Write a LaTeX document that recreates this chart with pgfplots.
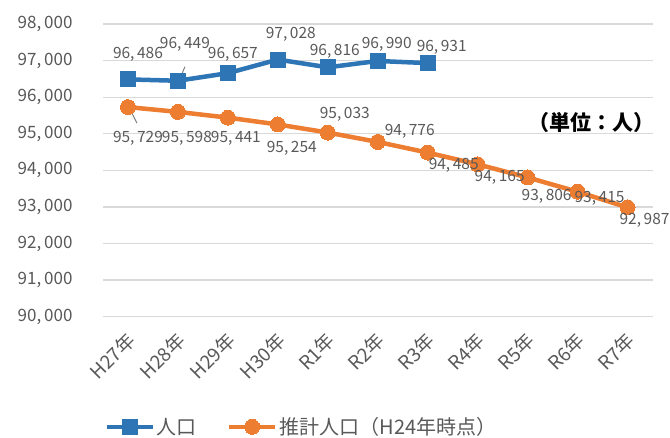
\documentclass[border=0pt]{standalone}
\usepackage{pgfplots}
\pgfplotsset{compat=1.18}
\usepackage{pgfplotstable}
\usepackage{fontspec}
\setmainfont{Noto Sans CJK JP}
\definecolor{cblue}{HTML}{2E75B6}
\definecolor{corange}{HTML}{ED7D31}
\definecolor{ctext}{HTML}{595959}
\definecolor{cgrid}{HTML}{D9D9D9}
\pgfplotstableread{
x y dx dy
0 96486 10 25
1 96449 7 36
2 96657 5 19
3 97028 13 25
4 96816 7 16
5 96990 9 17
6 96931 14 16
}\jinko
\pgfplotstableread{
x y dx dy
0 95729 10 -31
1 95598 9 -26
2 95441 8 -21
3 95254 14 -24
4 95033 17 18
5 94776 32 11
6 94485 26 -13
7 94165 22 -13
8 93806 19 -19
9 93415 22 -7
10 92987 17 -13
}\suikei
\pgfplotsset{/pgf/number format/.cd, assume math mode=true, 1000 sep={,\,}}
\pgfplotsset{frame/.style={
  at={(103pt,120.3pt)}, anchor=south west,
  scale only axis, width=549.5pt, height=292.7pt,
  xmin=-0.5, xmax=10.5, ymin=90000, ymax=98000, clip=false}}
\begin{document}
\begin{tikzpicture}
\useasboundingbox (0pt,0pt) rectangle (670pt,437pt);
\begin{axis}[
  frame,
  ytick={90000,91000,...,98000},
  xtick={0,...,10},
  xticklabels={H27年,H28年,H29年,H30年,R1年,R2年,R3年,R4年,R5年,R6年,R7年},
  axis line style={draw=none},
  major tick length=0pt,
  ymajorgrids, grid style={cgrid, line width=1.3pt},
  tick label style={color=ctext, font=\fontsize{17}{17}\selectfont},
  yticklabel style={anchor=east, xshift=-27pt},
  xticklabel style={font=\fontsize{19}{19}\selectfont, xshift=6pt, yshift=-18pt, rotate=45, anchor=east},
  scaled y ticks=false,
  legend columns=2,
  legend style={draw=none, fill=none, at={(0.361,-0.376)}, anchor=center,
    font=\fontsize{20}{20}\selectfont, text=ctext,
    /tikz/every even column/.append style={column sep=28pt}},
  legend image code/.code={\draw[#1, mark repeat=2, mark phase=2] plot coordinates {(0pt,0pt)(23pt,0pt)(46pt,0pt)};},
]
\addplot[color=cblue, line width=4.5pt, mark=square*, mark size=7.5pt, mark options={line width=0pt, fill=cblue}] table[x=x,y=y] {\jinko};
\addlegendentry{人口}
\addplot[color=corange, line width=4.5pt, mark=*, mark size=7.5pt, mark options={line width=0pt, fill=corange}] table[x=x,y=y] {\suikei};
\addlegendentry{推計人口（H24年時点）}
\draw[gray, line width=1pt] (axis cs:1,96449) ++(2pt,2pt) -- ++(5pt,12pt);
\draw[gray, line width=1pt] (axis cs:0,95729) ++(2pt,-2pt) -- ++(7pt,-14pt);
\node[font=\bfseries\fontsize{21}{21}\selectfont, text=black] at (axis cs:9.27,95300) {（単位：人）};
\end{axis}
\begin{axis}[
  frame, hide axis,
  visualization depends on={\thisrow{dx}\as\dx},
  visualization depends on={\thisrow{dy}\as\dy},
  every node near coord/.style={anchor=center, xshift=\dx pt, yshift=\dy pt, color=ctext, font=\fontsize{15.5}{15.5}\selectfont},
]
\addplot[draw=none, mark=none, nodes near coords] table[x=x,y=y] {\jinko};
\addplot[draw=none, mark=none, nodes near coords] table[x=x,y=y] {\suikei};
\end{axis}
\end{tikzpicture}
\end{document}
